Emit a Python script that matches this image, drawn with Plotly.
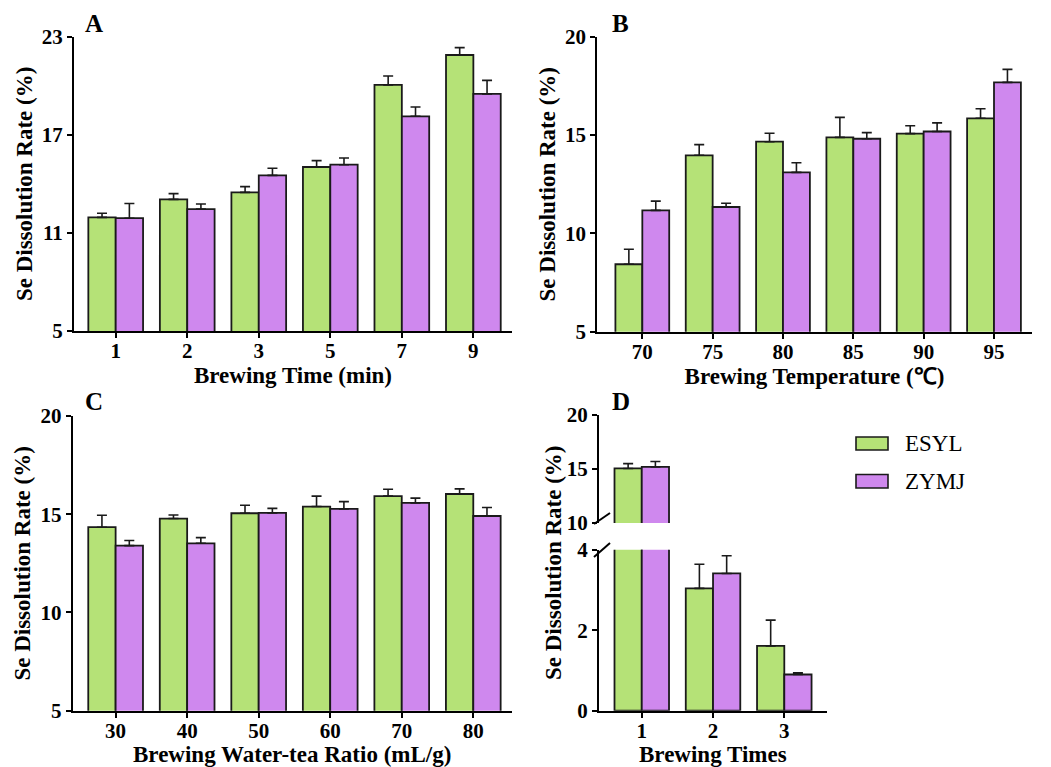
import plotly.graph_objects as go

# ---------------- data ----------------
series_names = ["ESYL", "ZYMJ"]

time_cats = ["1", "2", "3", "5", "7", "9"]
time_esyl = [11.95, 13.05, 13.48, 15.03, 20.05, 21.88]
time_esyl_err = [0.25, 0.35, 0.35, 0.39, 0.55, 0.45]
time_zymj = [11.90, 12.46, 14.52, 15.17, 18.13, 19.50]
time_zymj_err = [0.90, 0.31, 0.43, 0.41, 0.57, 0.83]

temp_cats = ["70", "75", "80", "85", "90", "95"]
temp_esyl = [8.43, 13.97, 14.66, 14.88, 15.07, 15.85]
temp_esyl_err = [0.76, 0.54, 0.43, 1.02, 0.40, 0.49]
temp_zymj = [11.17, 11.34, 13.10, 14.81, 15.18, 17.68]
temp_zymj_err = [0.47, 0.19, 0.49, 0.31, 0.44, 0.66]

ratio_cats = ["30", "40", "50", "60", "70", "80"]
ratio_esyl = [14.34, 14.78, 15.05, 15.39, 15.92, 16.03]
ratio_esyl_err = [0.61, 0.18, 0.41, 0.53, 0.35, 0.26]
ratio_zymj = [13.40, 13.52, 15.07, 15.27, 15.58, 14.91]
ratio_zymj_err = [0.26, 0.29, 0.23, 0.37, 0.24, 0.43]

times_cats = ["1", "2", "3"]
times_esyl = [15.05, 3.04, 1.61]
times_esyl_err = [0.45, 0.60, 0.64]
times_zymj = [15.20, 3.41, 0.90]
times_zymj_err = [0.50, 0.44, 0.04]

ticks_A = [5, 11, 17, 23]
ticks_BC = [5, 10, 15, 20]
ticks_D_upper = [10, 15, 20]
ticks_D_lower = [0, 2, 4]

# ---------------- style ----------------
# the page body adds an 8px margin, so the figure is drawn 8px smaller and
# every layout position below is given in window pixels minus that offset
OFF = 8
W, H = 1051 - OFF, 767 - OFF
GREEN = "#B5E277"
PURPLE = "#CF88EE"
EDGE = "#1A1A1A"
FONT = "Liberation Serif, Times New Roman, serif"
colors = [GREEN, PURPLE]


def px(x):
    return (x - OFF) / W


def py(y):
    return 1 - (y - OFF) / H


def dxr(a, b):
    return [px(a), px(b)]


def dyr(top, bottom):
    return [py(bottom), py(top)]


fig = go.Figure()


def add_pair(cats, vals, errs, xa, ya):
    for name, v, e, c in zip(series_names, vals, errs, colors):
        fig.add_trace(go.Bar(
            x=cats, y=v, name=name, xaxis=xa, yaxis=ya,
            marker=dict(color=c, line=dict(color=EDGE, width=1.8)),
            error_y=dict(type="data", symmetric=False, array=e,
                         arrayminus=[0] * len(e), color=EDGE,
                         thickness=1.6, width=5),
            showlegend=False,
        ))


add_pair(time_cats, [time_esyl, time_zymj], [time_esyl_err, time_zymj_err], "x", "y")
add_pair(temp_cats, [temp_esyl, temp_zymj], [temp_esyl_err, temp_zymj_err], "x2", "y2")
add_pair(ratio_cats, [ratio_esyl, ratio_zymj], [ratio_esyl_err, ratio_zymj_err], "x3", "y3")
add_pair(times_cats, [times_esyl, times_zymj], [times_esyl_err, times_zymj_err], "x4", "y4")
add_pair(times_cats, [times_esyl, times_zymj], [times_esyl_err, times_zymj_err], "x4", "y5")

tickfont = dict(family=FONT, size=21, color="black", weight="bold")
titlefont = dict(family=FONT, size=23, color="black", weight="bold")


def xaxis(domain, rng, title, anchor):
    return dict(domain=domain, range=rng, type="category", anchor=anchor,
                automargin=False,
                showline=True, linecolor="black", linewidth=2,
                ticks="outside", ticklen=5, tickwidth=2, tickcolor="black",
                tickfont=tickfont, showgrid=False, zeroline=False,
                ticklabelstandoff=-5,
                title=dict(text=title, font=titlefont, standoff=2))


def yaxis(domain, rng, tickvals, title, anchor):
    return dict(domain=domain, range=rng, anchor=anchor, tickvals=tickvals,
                automargin=False,
                showline=True, linecolor="black", linewidth=2,
                ticks="outside", ticklen=5, tickwidth=2, tickcolor="black",
                tickfont=tickfont, showgrid=False, zeroline=False,
                title=dict(text=title, font=titlefont, standoff=3))


ytitle = "Se Dissolution Rate (%)"
layout = dict(
    width=W, height=H, autosize=False,
    margin=dict(l=0, r=0, t=0, b=0, pad=0, autoexpand=False),
    paper_bgcolor="white", plot_bgcolor="white",
    barmode="group", bargap=0.235, bargroupgap=0,
    font=dict(family=FONT, color="black"),
    xaxis=xaxis(dxr(74, 512), [-0.583, 5.54], "Brewing Time (min)", "y"),
    yaxis=yaxis(dyr(36.7, 331), [5, 23], ticks_A, ytitle, "x"),
    xaxis2=xaxis(dxr(597.3, 1031.7), [-0.64, 5.536], "Brewing Temperature (℃)", "y2"),
    yaxis2=yaxis(dyr(36.7, 331.7), [5, 20], ticks_BC, ytitle, "x2"),
    xaxis3=xaxis(dxr(72.7, 511.7), [-0.6, 5.537], "Brewing Water-tea Ratio (mL/g)", "y3"),
    yaxis3=yaxis(dyr(416, 710.7), [5, 20], ticks_BC, ytitle, "x3"),
    xaxis4=xaxis(dxr(599, 826.7), [-0.6, 2.595], "Brewing Times", "y4"),
    yaxis4=yaxis(dyr(549.7, 710.7), [0, 4], ticks_D_lower, "", "x4"),
    yaxis5=yaxis(dyr(415, 523), [10, 20], ticks_D_upper, "", "x4"),
)
fig.update_layout(**layout)

# shared y title for broken axis of panel D
annotations = [
    dict(text="<b>Se Dissolution Rate (%)</b>", x=px(553), y=py(563),
         xref="paper", yref="paper", textangle=-90, showarrow=False,
         font=titlefont, xanchor="center", yanchor="middle"),
]
# panel letters
for letter, lx, ly in [("A", 94, 24), ("B", 620, 24), ("C", 94, 401), ("D", 621, 401)]:
    annotations.append(dict(text="<b>%s</b>" % letter, x=px(lx), y=py(ly),
                            xref="paper", yref="paper", showarrow=False,
                            font=dict(family=FONT, size=25, color="black"),
                            xanchor="center", yanchor="middle"))
# legend labels
for name, ly in zip(series_names, [443.5, 481]):
    annotations.append(dict(text=name, x=px(903), y=py(ly), xref="paper",
                            yref="paper", showarrow=False, xanchor="left",
                            yanchor="middle",
                            font=dict(family=FONT, size=23, color="black")))
fig.update_layout(annotations=annotations)

shapes = []
# legend swatches
for c, (t, b) in zip(colors, [(437, 450), (474.5, 488)]):
    shapes.append(dict(type="rect", xref="paper", yref="paper",
                       x0=px(856), x1=px(888), y0=py(b), y1=py(t),
                       fillcolor=c, line=dict(color=EDGE, width=1.6)))
# axis break marks
for (x0, y0, x1, y1) in [(594, 524, 610, 513), (594, 557, 610, 543)]:
    shapes.append(dict(type="line", xref="paper", yref="paper",
                       x0=px(x0), y0=py(y0), x1=px(x1), y1=py(y1),
                       line=dict(color="black", width=2)))
fig.update_layout(shapes=shapes)

fig.write_html("out.html")
